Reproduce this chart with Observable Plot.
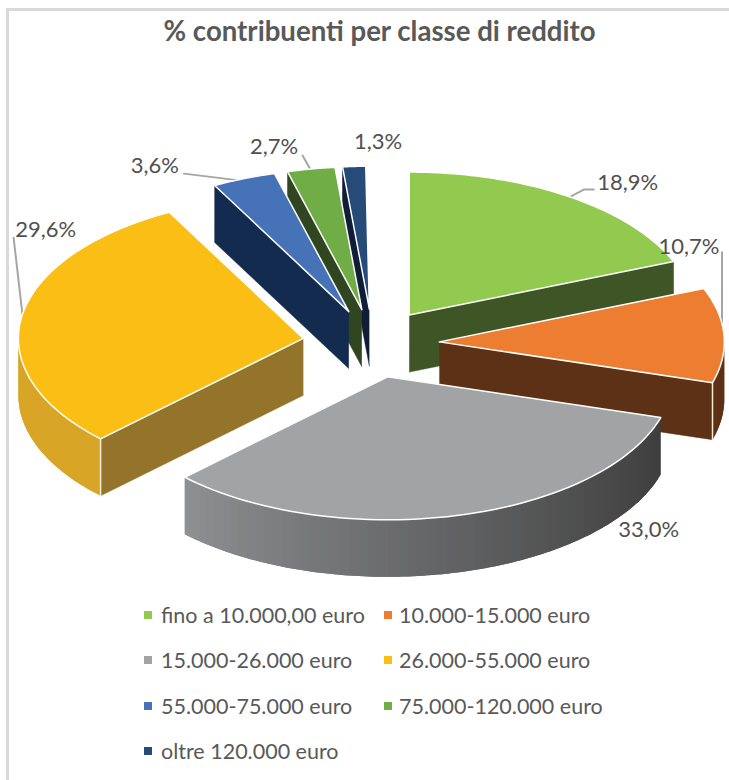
<!DOCTYPE html>
<html><head><meta charset="utf-8">
<script src="https://cdn.jsdelivr.net/npm/d3@7"></script>
<script src="https://cdn.jsdelivr.net/npm/@observablehq/plot@0.6"></script>
<style>
html,body{margin:0;padding:0;background:#fff}
#frame{position:relative;width:729px;height:780px;overflow:hidden;font-family:Lato,sans-serif}
.bl{position:absolute;left:6px;top:8px;width:3px;height:772px;background:#d9d9d9}
.bt{position:absolute;left:6px;top:8px;width:723px;height:3px;background:#d9d9d9}
#title{height:54px;box-sizing:border-box;padding-top:14px;text-align:center;font-weight:700;font-size:27.6px;line-height:34px;color:#595959;margin-left:30px}
#chart{height:538px}
#chart svg{display:block}
#legend{display:grid;grid-template-columns:240px 1fr;grid-auto-rows:45.5px;padding-left:144px;font-size:21.5px;color:#595959}
#legend div{display:flex;align-items:center;white-space:nowrap}
#legend i{display:inline-block;width:8px;height:8px;margin-right:9px;flex:none}
#legend div:nth-child(even) i{margin-right:7px}
</style></head>
<body>
<div id="frame"><div class="bl"></div><div class="bt"></div>
<div id="title"></div><div id="chart"></div><div id="legend"></div></div>
<script>
const titleText = "% contribuenti per classe di reddito";
const categories = ["fino a 10.000,00 euro","10.000-15.000 euro","15.000-26.000 euro","26.000-55.000 euro","55.000-75.000 euro","75.000-120.000 euro","oltre 120.000 euro"];
const shares = [18.9,10.7,33.0,29.6,3.6,2.7,1.3];
const labels = ["18,9%","10,7%","33,0%","29,6%","3,6%","2,7%","1,3%"];
const topColors = ["#92c94f","#ed7d31","#a2a3a5","#fbbe14","#4672b8","#70ad47","#264b78"];
const sideColors = ["#3e5625","#5c3116","#3f3f3f","#94732b","#132b4f","#2f4620","#0f1e36"];
const rimFrom = ["#3e5625","#5c3116","#3e3e3e","#d9a526","#132b4f","#2f4620","#0f1e36"];
const rimTo = ["#3e5625","#5c3116","#8f9093","#d9a526","#132b4f","#2f4620","#0f1e36"];

// Layout of the tilted pie, in pixels
const W = 729, H = 538, topOffset = 54;
const cx = 370.5, cy = 343 - topOffset, rx = 285, ry = 143;
const explode = 0.24, depth = 57 / ry;
const sliceNudge = [0,0,0,0,3,3,2];
const labelShift = [[59,-14],[-35,-88],[192,14],[24,-87],[-89,-13],[-37,-22],[24,-24]];
const leaderBends = [[[0,1],[15,-7],[25,-7]],[[-2,1],[-2,-83]],[],[[1,-1],[-8,-79]],[[-3,2],[-60,-5]],[[0,1.5],[-8.5,-13.5]],[]];

const rad = d => d * Math.PI / 180;
let acc = 0;
const slices = shares.map((v,i) => {
  const s = acc * 3.6; acc += v; const e = acc * 3.6, m = (s+e)/2;
  return {i, s, e, m, ox: explode*Math.sin(rad(m)) + sliceNudge[i]/rx, oy: explode*Math.cos(rad(m))};
});
const pt = (sl,a,r=1,d=0) => [sl.ox + r*Math.sin(rad(a)), sl.oy + r*Math.cos(rad(a)) - d];

const polys = [];
function addPoly(pts, fill, stroke, sw){ polys.push({pts, fill, stroke, sw}); }
const wall = (sl,a) => [pt(sl,0,0), pt(sl,a), pt(sl,a,1,depth), pt(sl,0,0,depth)];
const arcPts = (sl,a0,a1,d) => d3.range(0,61).map(k => pt(sl,a0+(a1-a0)*k/60,1,d));
const order = [...slices].sort((a,b)=>Math.cos(rad(b.m))-Math.cos(rad(a.m)));
for (const sl of order) {
  const side = sideColors[sl.i];
  const startVis = Math.sin(rad(sl.s)) < -1e-6, endVis = Math.sin(rad(sl.e)) > 1e-6;
  if (startVis) addPoly(wall(sl,sl.s), side, side, 0.5);
  if (endVis) addPoly(wall(sl,sl.e), side, side, 0.5);
  const a0 = Math.max(sl.s,90), a1 = Math.min(sl.e,270);
  if (a1 > a0) {
    const n = Math.ceil((a1-a0)/2), col = d3.interpolateRgb(rimFrom[sl.i], rimTo[sl.i]);
    for (let k=0;k<n;k++){
      // each strip runs on under the next one, so no seams show between strips
      const u=a0+(a1-a0)*k/n, v=a0+(a1-a0)*Math.min(k+2,n)/n, c=col(Math.pow((k+.5)/n,1.2));
      const seg = d3.range(0,5).map(j=>u+(v-u)*j/4);
      addPoly([...seg.map(a=>pt(sl,a)), ...[...seg].reverse().map(a=>pt(sl,a,1,depth))], c, "none", 0);
    }
    if (startVis && a0===sl.s) addPoly([pt(sl,a0),pt(sl,a0,1,depth)], "none", "#f3ecd6", 1.5);
    if (endVis && a1===sl.e) addPoly([pt(sl,a1),pt(sl,a1,1,depth)], "none", "#f3ecd6", 1.5);
  }
  addPoly([pt(sl,0,0), ...arcPts(sl,sl.s,sl.e,0), pt(sl,0,0)], topColors[sl.i], "#fff", 1.5);
}
const px = d => d/rx, py = d => -d/ry;

const labelRows = slices.map(sl=>{
  const [x,y]=pt(sl,sl.m), [dx,dy]=labelShift[sl.i];
  return {x:x+px(dx), y:y+py(dy), text:labels[sl.i]};
});
const leaderRows = slices.flatMap(sl=>{
  const [x,y]=pt(sl,sl.m);
  return leaderBends[sl.i].map(([dx,dy])=>({x:x+px(dx),y:y+py(dy),id:sl.i}));
});

const plot = Plot.plot({
  width:W, height:H, margin:0,
  style:{background:"transparent",overflow:"visible"},
  x:{axis:null,domain:[-1,1],range:[cx-rx,cx+rx]},
  y:{axis:null,domain:[-1,1],range:[cy+ry,cy-ry]},
  marks:[
    Plot.line(leaderRows,{x:"x",y:"y",z:"id",stroke:"#a6a6a6",strokeWidth:2,curve:"linear"}),
    ...polys.map(p=>Plot.line(p.pts.map(([x,y])=>({x,y})),{x:"x",y:"y",curve:"linear",fill:p.fill,stroke:p.stroke,strokeWidth:p.sw,strokeLinejoin:"round"})),
    Plot.text(labelRows,{x:"x",y:"y",text:"text",fontSize:22,fontFamily:"Lato,sans-serif",fill:"#505050",textAnchor:"middle"})
  ]
});
document.getElementById("title").textContent = titleText;
document.getElementById("chart").appendChild(plot);
const lg = document.getElementById("legend");
categories.forEach((c,i)=>{
  const d=document.createElement("div");
  const sw=document.createElement("i"); sw.style.background=topColors[i];
  d.appendChild(sw); d.appendChild(document.createTextNode(c)); lg.appendChild(d);
});
</script>
</body></html>
